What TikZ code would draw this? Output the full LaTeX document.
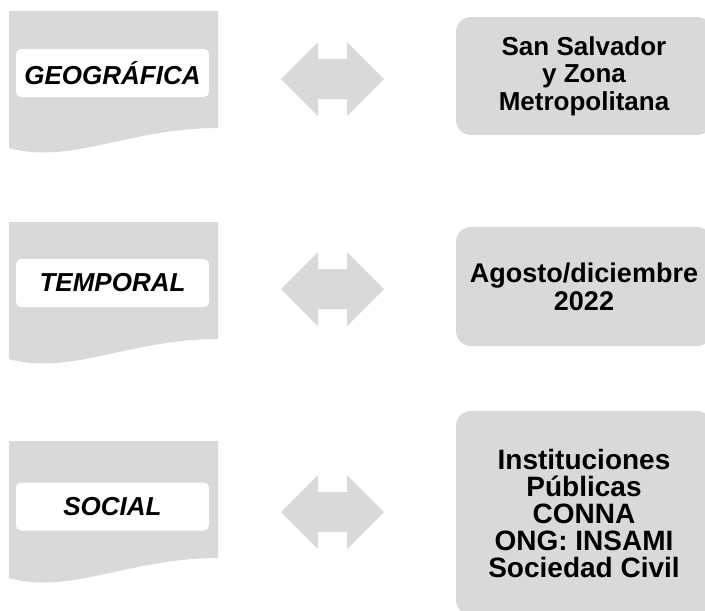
\documentclass[tikz,border=0pt]{standalone}
\usepackage{fontspec}
\setmainfont{Liberation Sans}
\definecolor{boxgray}{RGB}{217,217,217}

\begin{document}
\begin{tikzpicture}[x=1pt, y=-1pt,
		docshape/.style={fill=boxgray},
		tag/.style={fill=white, rounded corners=5pt, inner sep=0pt, minimum width=193pt, minimum height=48pt, font=\bfseries\itshape\fontsize{26}{28}\selectfont},
		info/.style={fill=boxgray, rounded corners=15pt, inner sep=0pt, minimum width=256pt, align=center, font=\bfseries\fontsize{26}{27.5}\selectfont},
		linkarrow/.pic={\fill[boxgray] (-51.5,0) -- (-14.5,-37) -- (-14.5,-20) -- (14.5,-20) -- (14.5,-37) -- (51.5,0) -- (14.5,37) -- (14.5,20) -- (-14.5,20) -- (-14.5,37) -- cycle;}]
		\useasboundingbox (0,0) rectangle (705,611);
		\clip (0,0) rectangle (705,611);

		% document shapes on the left
		\fill[docshape] (9,11) -- (218,11) -- (218,128) .. controls (130,128) and (70,165) .. (9,148) -- cycle;
		\fill[docshape, shift={(0,211)}] (9,11) -- (218,11) -- (218,128) .. controls (130,128) and (70,165) .. (9,148) -- cycle;
		\fill[docshape, shift={(0,430)}] (9,11) -- (218,11) -- (218,128) .. controls (130,128) and (70,165) .. (9,148) -- cycle;

		\node[tag] at (112.5, 73) (geo) {GEOGRÁFICA};
		\node[tag] at (112.5, 283) (temp) {TEMPORAL};
		\node[tag] at (112.5, 506.5) (soc) {SOCIAL\hspace{8pt}};

		% double arrows
		\pic at (332.5, 79) {linkarrow};
		\pic at (332.5, 289) {linkarrow};
		\pic at (332.5, 512) {linkarrow};

		% boxes on the right
		\node[info, minimum height=118pt] at (584, 76) (geoinfo) {San Salvador\\y Zona\\Metropolitana};
		\node[info, minimum height=119pt, font=\bfseries\fontsize{27}{28}\selectfont] at (584, 286.5) (tempinfo) {Agosto/diciembre\\2022};
		\node[info, minimum height=204pt, font=\bfseries\fontsize{28}{27}\selectfont] at (584, 513) (socinfo) {Instituciones\\Públicas\\CONNA\\ONG: INSAMI\\Sociedad Civil};
	\end{tikzpicture}
\end{document}
